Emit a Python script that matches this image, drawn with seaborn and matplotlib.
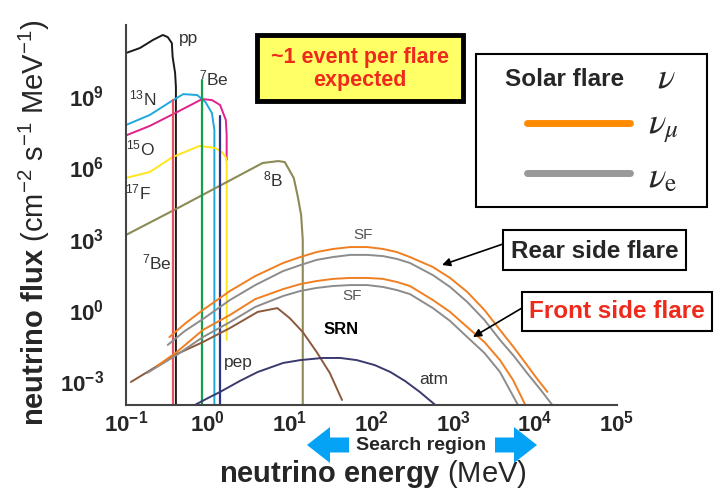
import numpy as np
import pandas as pd
import matplotlib
matplotlib.use("Agg")
import matplotlib.pyplot as plt
import seaborn as sns
from matplotlib.patches import Rectangle, FancyArrow
from matplotlib.lines import Line2D
from matplotlib.ticker import LogLocator, NullFormatter

# values: log10(E / MeV) and log10(flux)
pp_loge = [-1.00, -0.83, -0.67, -0.55, -0.49, -0.44, -0.43, -0.40, -0.39, -0.39]
pp_logf = [10.82, 11.03, 11.37, 11.58, 11.49, 11.24, 10.65, 9.98, 9.39, -4.00]

n13_loge = [-1.00, -0.71, -0.46, -0.30, -0.13, -0.03, 0.05, 0.08, 0.08]
n13_logf = [7.79, 8.21, 8.76, 9.09, 9.05, 8.76, 8.29, 7.58, -4.00]

o15_loge = [-1.00, -0.71, -0.40, -0.07, 0.05, 0.15, 0.22, 0.23, 0.23]
o15_logf = [7.35, 7.75, 8.29, 8.88, 8.84, 8.63, 8.00, 7.37, 6.32]

f17_loge = [-1.00, -0.71, -0.43, -0.10, 0.09, 0.17, 0.22, 0.23, 0.23]
f17_logf = [5.56, 5.81, 6.44, 6.91, 6.82, 6.65, 6.44, 6.10, -1.26]

b8_loge = [-1.00, -0.34, 0.67, 0.86, 0.94, 1.05, 1.10, 1.14, 1.16, 1.16]
b8_logf = [3.16, 4.34, 6.19, 6.27, 6.23, 5.56, 4.76, 4.00, 2.95, -4.00]

# line sources (energy, top of line down to the axis)
be7a_loge = [-0.42, -0.42]
be7a_logf = [8.84, -4.00]
be7b_loge = [-0.07, -0.07]
be7b_logf = [9.68, -4.00]
pep_loge = [0.15, 0.15]
pep_logf = [8.17, -4.00]

srn_loge = [-0.94, -0.62, -0.40, -0.06, 0.27, 0.61, 0.85, 1.00, 1.16, 1.33, 1.49, 1.64]
srn_logf = [-3.03, -2.36, -1.89, -1.35, -0.76, -0.08, 0.08, -0.34, -0.93, -1.77, -2.65, -3.79]

atm_loge = [-0.16, 0.00, 0.15, 0.39, 0.61, 0.92, 1.13, 1.40, 1.62, 1.82, 2.04, 2.23, 2.41, 2.59, 2.78]
atm_logf = [-4.00, -3.71, -3.45, -2.99, -2.61, -2.23, -2.11, -2.02, -2.02, -2.11, -2.32, -2.61, -2.99, -3.45, -4.00]

# solar flare curves
rear_mu_loge = [-0.47, -0.27, -0.06, 0.27, 0.58, 0.92, 1.13, 1.33, 1.53, 1.74, 1.95, 2.14,
                2.31, 2.47, 2.75, 2.96, 3.17, 3.38, 3.57, 3.74, 3.90, 4.02, 4.15]
rear_mu_logf = [-1.14, -0.55, 0.00, 0.80, 1.43, 1.98, 2.23, 2.44, 2.57, 2.65, 2.65, 2.57,
                2.44, 2.23, 1.81, 1.35, 0.76, 0.00, -0.84, -1.58, -2.32, -2.88, -3.45]
rear_e_loge = [-0.49, -0.28, -0.06, 0.27, 0.58, 0.92, 1.13, 1.33, 1.53, 1.74, 1.95, 2.14,
               2.31, 2.47, 2.75, 2.96, 3.17, 3.38, 3.57, 3.74, 3.90, 4.06, 4.21]
rear_e_logf = [-1.47, -0.88, -0.38, 0.42, 1.05, 1.64, 1.89, 2.11, 2.23, 2.32, 2.32, 2.27,
               2.15, 1.98, 1.47, 0.97, 0.34, -0.42, -1.26, -1.94, -2.65, -3.33, -4.00]
front_mu_loge = [-0.62, -0.38, -0.06, 0.27, 0.58, 0.92, 1.13, 1.33, 1.53, 1.74, 1.95,
                 2.14, 2.31, 2.47, 2.75, 2.96, 3.17, 3.38, 3.57, 3.73, 3.88]
front_mu_logf = [-2.36, -1.77, -0.84, -0.21, 0.46, 0.88, 1.09, 1.22, 1.31, 1.35, 1.35,
                 1.31, 1.18, 1.01, 0.42, -0.08, -0.72, -1.35, -2.11, -2.95, -4.00]
front_e_loge = [-0.74, -0.38, -0.06, 0.27, 0.58, 0.92, 1.13, 1.33, 1.53, 1.74, 1.95,
                2.14, 2.31, 2.47, 2.75, 2.96, 3.17, 3.38, 3.57, 3.79]
front_e_logf = [-2.65, -1.89, -1.14, -0.51, 0.13, 0.59, 0.80, 0.93, 1.01, 1.05, 1.05,
                0.97, 0.84, 0.67, 0.08, -0.46, -1.14, -1.81, -2.61, -4.00]

x_ticklabels = ['-1', '0', '1', '2', '3', '4', '5']
y_ticklabels = ['-3', '0', '3', '6', '9']

series = {
    'pp': (pp_loge, pp_logf, '#1a1a1a', 1.4),
    '13N': (n13_loge, n13_logf, '#1fa8e0', 1.4),
    '15O': (o15_loge, o15_logf, '#e0218a', 1.4),
    '17F': (f17_loge, f17_logf, '#ffe61a', 1.4),
    '8B': (b8_loge, b8_logf, '#8c8a55', 1.5),
    '7Be_a': (be7a_loge, be7a_logf, '#e8505f', 1.6),
    '7Be_b': (be7b_loge, be7b_logf, '#13a04c', 1.6),
    'pep': (pep_loge, pep_logf, '#2e348a', 1.6),
    'SRN': (srn_loge, srn_logf, '#8b5a3c', 1.4),
    'atm': (atm_loge, atm_logf, '#3b3a6e', 1.4),
    'rear_e': (rear_e_loge, rear_e_logf, '#8c8c8c', 1.4),
    'rear_mu': (rear_mu_loge, rear_mu_logf, '#f07f22', 1.4),
    'front_e': (front_e_loge, front_e_logf, '#8c8c8c', 1.4),
    'front_mu': (front_mu_loge, front_mu_logf, '#f07f22', 1.4),
}

rows = []
for name, (le, lf, c, w) in series.items():
    for i, (a, b) in enumerate(zip(le, lf)):
        rows.append({'source': name, 'order': i, 'energy': 10.0 ** a, 'flux': 10.0 ** b})
df = pd.DataFrame(rows)

sns.set_style("white")
plt.rcParams['font.family'] = ['Liberation Sans', 'DejaVu Sans']
plt.rcParams['mathtext.fontset'] = 'custom'
plt.rcParams['mathtext.rm'] = 'Liberation Sans'
plt.rcParams['mathtext.it'] = 'Liberation Sans:italic'
plt.rcParams['mathtext.bf'] = 'Liberation Sans:bold'
plt.rcParams['mathtext.sf'] = 'Liberation Sans'

W, H = 719, 491
fig = plt.figure(figsize=(W / 100, H / 100), dpi=100)
ax = fig.add_axes([126 / W, 1 - 405 / H, 491 / W, 380 / H])
ax.set_xscale('log')
ax.set_yscale('log')

for name, (le, lf, c, w) in series.items():
    sub = df[df.source == name]
    sns.lineplot(data=sub, x='energy', y='flux', sort=False, estimator=None,
                 color=c, lw=w, ax=ax)
for ln in ax.get_lines():
    ln.set_solid_joinstyle('round')

ax.set_xlim(1e-1, 1e5)
ax.set_ylim(1e-4, 1e12)
for s in ['top', 'right']:
    ax.spines[s].set_visible(False)
for s in ['left', 'bottom']:
    ax.spines[s].set_color('#444444')
    ax.spines[s].set_linewidth(1.5)

ax.set_xticks([10.0 ** int(t) for t in x_ticklabels])
ax.set_xticklabels([r'$\mathbf{10^{%s}}$' % t for t in x_ticklabels])
ax.xaxis.set_minor_locator(LogLocator(base=10, subs=np.arange(2, 10), numticks=100))
ax.xaxis.set_minor_formatter(NullFormatter())
yt = np.arange(-4, 13)
ax.set_yticks(10.0 ** yt)
ax.set_yticklabels([r'$\mathbf{10^{%d}}$' % v if str(v) in y_ticklabels else '' for v in yt])
ax.yaxis.set_minor_locator(LogLocator(base=10, subs=np.arange(2, 10), numticks=100))
ax.yaxis.set_minor_formatter(NullFormatter())
ax.tick_params(axis='x', which='major', direction='in', length=6, width=1.2,
               color='#444444', labelsize=16, pad=4)
ax.tick_params(axis='x', which='minor', direction='in', length=3, width=1.0, color='#444444')
ax.tick_params(axis='y', which='major', direction='out', length=5, width=1.2,
               color='#444444', labelsize=16, pad=11)
ax.tick_params(axis='y', which='minor', direction='out', length=3, width=0.8, color='#444444')

ax.set_xlabel(r'$\mathbf{neutrino\ energy}$ (MeV)', fontsize=21)
ax.xaxis.set_label_coords(0.503, -0.14)
ax.set_ylabel(r'$\mathbf{neutrino\ flux}$ (cm$^{-2}$ s$^{-1}$ MeV$^{-1}$)', fontsize=21)
ax.yaxis.set_label_coords(-0.15, 0.48)


def fx(px):
    return px / W


def fy(py):
    return 1 - py / H


# source labels
lab_kw = dict(ha='center', va='center', color='#333333', fontsize=12.5)
fig.text(fx(189), fy(39), 'pp', **lab_kw)
fig.text(fx(214), fy(78), r'$^{7}$Be', **lab_kw)
fig.text(fx(143), fy(98), r'$^{13}$N', **lab_kw)
fig.text(fx(140), fy(148), r'$^{15}$O', **lab_kw)
fig.text(fx(138), fy(192), r'$^{17}$F', **lab_kw)
fig.text(fx(273), fy(179), r'$^{8}$B', **lab_kw)
fig.text(fx(157), fy(262), r'$^{7}$Be', **lab_kw)
fig.text(fx(238), fy(362), 'pep', **lab_kw)
fig.text(fx(434), fy(380), 'atm', **lab_kw)
fig.text(fx(363), fy(235), 'SF', ha='center', va='center', color='#555555', fontsize=11)
fig.text(fx(352), fy(296), 'SF', ha='center', va='center', color='#555555', fontsize=11)
fig.text(fx(341), fy(329), 'SRN', ha='center', va='center', color='black',
         fontsize=12, fontweight='bold')

tr = fig.dpi_scale_trans


def box(x0, y0, x1, y1, fc='white', lw=1.5):
    fig.add_artist(Rectangle((x0 / 100, (H - y1) / 100), (x1 - x0) / 100, (y1 - y0) / 100,
                             transform=tr, facecolor=fc, edgecolor='black', lw=lw))


# yellow note
box(257, 35, 463, 101, fc='#ffff66', lw=3.5)
fig.text(fx(360), fy(69), '~1 event per flare\nexpected', ha='center', va='center',
         color='#ee2a1c', fontsize=15.5, fontweight='bold', linespacing=1.1)

# legend
box(476, 54, 707, 207)
fig.text(fx(565), fy(80), 'Solar flare', ha='center', va='center', fontsize=17.5, fontweight='bold')
fig.text(fx(666), fy(78), r'$\nu$', ha='center', va='center', fontsize=26, math_fontfamily='stix')
fig.add_artist(Line2D([5.27, 6.30], [(H - 123) / 100] * 2, transform=tr, color='#ff8c00', lw=5))
fig.add_artist(Line2D([5.27, 6.30], [(H - 173) / 100] * 2, transform=tr, color='#999999', lw=5))
fig.text(fx(648), fy(128), r'$\nu_{\mu}$', ha='left', va='center', fontsize=26, math_fontfamily='stix')
fig.text(fx(648), fy(178), r'$\nu_{\mathrm{e}}$', ha='left', va='center', fontsize=26, math_fontfamily='stix')

# flare boxes + arrows
box(503, 230, 686, 270)
fig.text(fx(595), fy(251), 'Rear side flare', ha='center', va='center', fontsize=17.5, fontweight='bold')
box(522, 292, 712, 331)
fig.text(fx(617), fy(312), 'Front side flare', ha='center', va='center', fontsize=17.5,
         fontweight='bold', color='#ee2a1c')
arr = dict(arrowstyle='-|>', color='black', lw=1.2, mutation_scale=12, shrinkA=0, shrinkB=0)
ax.annotate('', xy=(442, H - 265), xytext=(503, H - 244), xycoords='figure pixels',
            textcoords='figure pixels', arrowprops=arr, annotation_clip=False)
ax.annotate('', xy=(473, H - 337), xytext=(522, H - 308), xycoords='figure pixels',
            textcoords='figure pixels', arrowprops=arr, annotation_clip=False)

# search region
blue = '#05a3f5'
fig.add_artist(FancyArrow(3.49, (H - 445) / 100, -0.42, 0, width=0.15, head_width=0.36,
                          head_length=0.23, length_includes_head=True, color=blue, lw=0,
                          transform=tr))
fig.add_artist(FancyArrow(4.95, (H - 445) / 100, 0.42, 0, width=0.15, head_width=0.36,
                          head_length=0.23, length_includes_head=True, color=blue, lw=0,
                          transform=tr))
fig.text(fx(421), fy(446), 'Search region', ha='center', va='center', fontsize=14, fontweight='bold')

fig.savefig('out.png', dpi=100)
